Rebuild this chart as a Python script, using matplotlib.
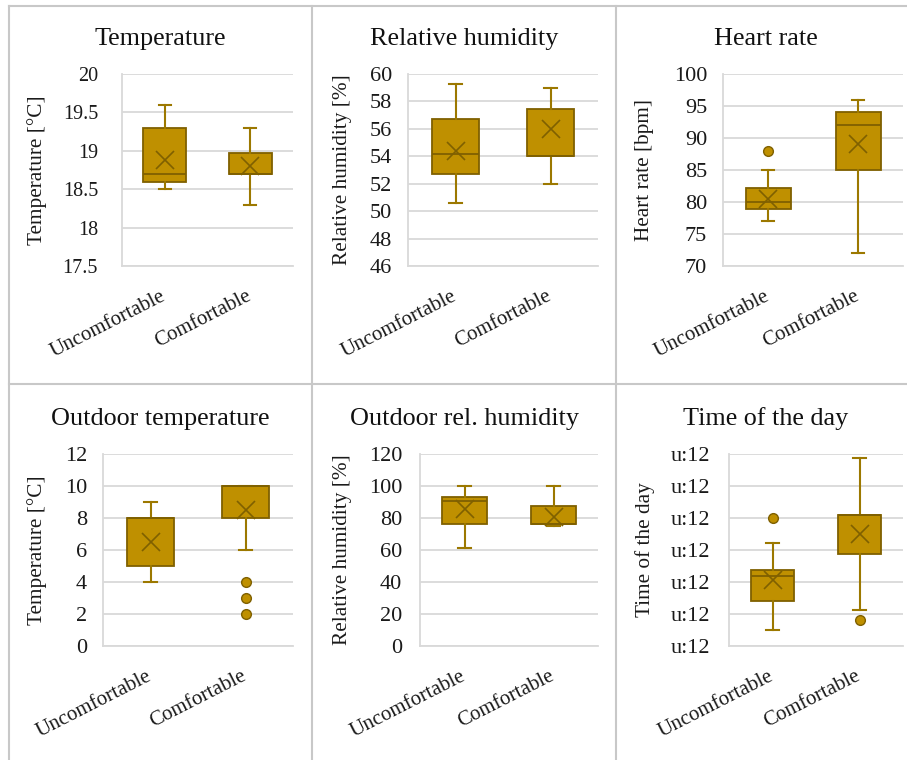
import matplotlib
matplotlib.use("Agg")
import matplotlib.pyplot as plt
from matplotlib.lines import Line2D

plt.rcParams['font.family'] = ['Liberation Serif', 'DejaVu Serif']

categories = ["Uncomfortable", "Comfortable"]

titles = ["Temperature", "Relative humidity", "Heart rate",
          "Outdoor temperature", "Outdoor rel. humidity", "Time of the day"]
ylabels = ["Temperature [°C]", "Relative humidity [%]", "Heart rate [bpm]",
           "Temperature [°C]", "Relative humidity [%]", "Time of the day"]

# y ticks and labels
yticks = [
    [17.5, 18, 18.5, 19, 19.5, 20],
    [46, 48, 50, 52, 54, 56, 58, 60],
    [70, 75, 80, 85, 90, 95, 100],
    [0, 2, 4, 6, 8, 10, 12],
    [0, 20, 40, 60, 80, 100, 120],
    [0, 1, 2, 3, 4, 5, 6],
]
yticklabels = [
    ["17.5", "18", "18.5", "19", "19.5", "20"],
    ["46", "48", "50", "52", "54", "56", "58", "60"],
    ["70", "75", "80", "85", "90", "95", "100"],
    ["0", "2", "4", "6", "8", "10", "12"],
    ["0", "20", "40", "60", "80", "100", "120"],
    ["u:12"] * 7,
]

# box statistics per panel: [uncomfortable, comfortable]
whislo = [[18.5, 18.3], [50.6, 52.0], [77, 72], [4, 6], [61, 75], [0.5, 1.12]]
q1 = [[18.6, 18.7], [52.7, 54.0], [78.9, 85], [5, 8], [76.5, 76.5], [1.4, 2.87]]
med = [[18.7, 18.7], [54.2, 54.0], [80, 92], [8, 10], [90.7, 76.5], [2.19, 4.09]]
q3 = [[19.3, 18.97], [56.7, 57.45], [82.2, 94], [8, 10], [93.3, 87.5], [2.37, 4.09]]
whishi = [[19.6, 19.3], [59.3, 59.0], [85, 96], [9, 10], [100, 100], [3.22, 5.87]]
means = [[18.88, 18.8], [54.4, 56.0], [80.5, 89], [6.5, 8.5], [85.5, 80.5], [2.06, 3.5]]
fliers = [[[], []], [[], []], [[88], []], [[], [4, 3, 2]], [[], []], [[4.0], [0.81]]]

W, H = 907, 760
fig = plt.figure(figsize=(W / 100, H / 100), dpi=100)

# axes boxes in pixels: left, top, right, bottom
axbox = [(122, 74, 293, 266), (408, 74, 598, 266), (723, 74, 903, 266),
         (103, 454, 293, 646), (420, 454, 598, 646), (729, 454, 903, 646)]
cell_cx = [160, 464, 766, 160, 464, 766]
title_y = [39, 39, 39, 419, 419, 419]
ylab_x = [37, 342, 645, 37, 342, 645]
ypad = [24, 16, 16, 16, 18, 19]
tick_fs = [14.5, 16, 16, 16, 16, 16]

fill = "#BF9000"
edge = "#7F6000"
whisk = "#9C7800"
grid = "#D9D9D9"

for i in range(6):
    l, t, r, b = axbox[i]
    ax = fig.add_axes([l / W, 1 - b / H, (r - l) / W, (b - t) / H])
    stats = []
    for j in range(2):
        stats.append(dict(whislo=whislo[i][j], q1=q1[i][j], med=med[i][j],
                          q3=q3[i][j], whishi=whishi[i][j], mean=means[i][j],
                          fliers=fliers[i][j], label=categories[j]))
    ax.bxp(stats, positions=[0, 1], widths=0.5, capwidths=0.14,
           showmeans=True, patch_artist=True,
           boxprops=dict(facecolor=fill, edgecolor=edge, linewidth=1.3),
           medianprops=dict(color=edge, linewidth=1.3),
           whiskerprops=dict(color=whisk, linewidth=1.5),
           capprops=dict(color=whisk, linewidth=1.5),
           meanprops=dict(marker="x", markersize=13, markeredgecolor=edge,
                          markeredgewidth=1.2),
           flierprops=dict(marker="o", markersize=7, markerfacecolor=fill,
                           markeredgecolor=edge, markeredgewidth=1.0))
    ax.set_xlim(-0.5, 1.5)
    ax.set_ylim(yticks[i][0], yticks[i][-1])
    ax.set_yticks(yticks[i])
    ax.set_yticklabels(yticklabels[i], fontsize=tick_fs[i], color="#1a1a1a")
    ax.tick_params(axis="y", length=0, pad=ypad[i] * 0.72)
    ax.set_xticks([0, 1])
    ax.set_xticklabels(categories, fontsize=15, color="#1a1a1a",
                       rotation=27, ha="right", va="center",
                       rotation_mode="anchor")
    ax.tick_params(axis="x", length=0, pad=21)
    ax.yaxis.grid(True, color=grid, linewidth=1.3)
    ax.set_axisbelow(True)
    for s in ["top", "right"]:
        ax.spines[s].set_visible(False)
    ax.spines["left"].set_color(grid)
    ax.spines["bottom"].set_color(grid)
    ax.spines["left"].set_linewidth(1.3)
    ax.spines["bottom"].set_linewidth(1.3)
    fig.text(cell_cx[i] / W, 1 - title_y[i] / H, titles[i], fontsize=18.8,
             ha="center", va="center", color="#111111")
    fig.text(ylab_x[i] / W, 1 - ((t + b) / 2) / H, ylabels[i], fontsize=15.3,
             rotation=90, ha="center", va="center", color="#1a1a1a")

# cell borders
sep = "#C8C8C8"
for x in [8.5, 312, 616]:
    fig.add_artist(Line2D([x / W, x / W], [1 - 6 / H, 0],
                          transform=fig.transFigure, color=sep, linewidth=1.5))
for y in [6, 384]:
    fig.add_artist(Line2D([8.5 / W, 1], [1 - y / H, 1 - y / H],
                          transform=fig.transFigure, color=sep, linewidth=1.5))

plt.savefig("out.png", dpi=100)
